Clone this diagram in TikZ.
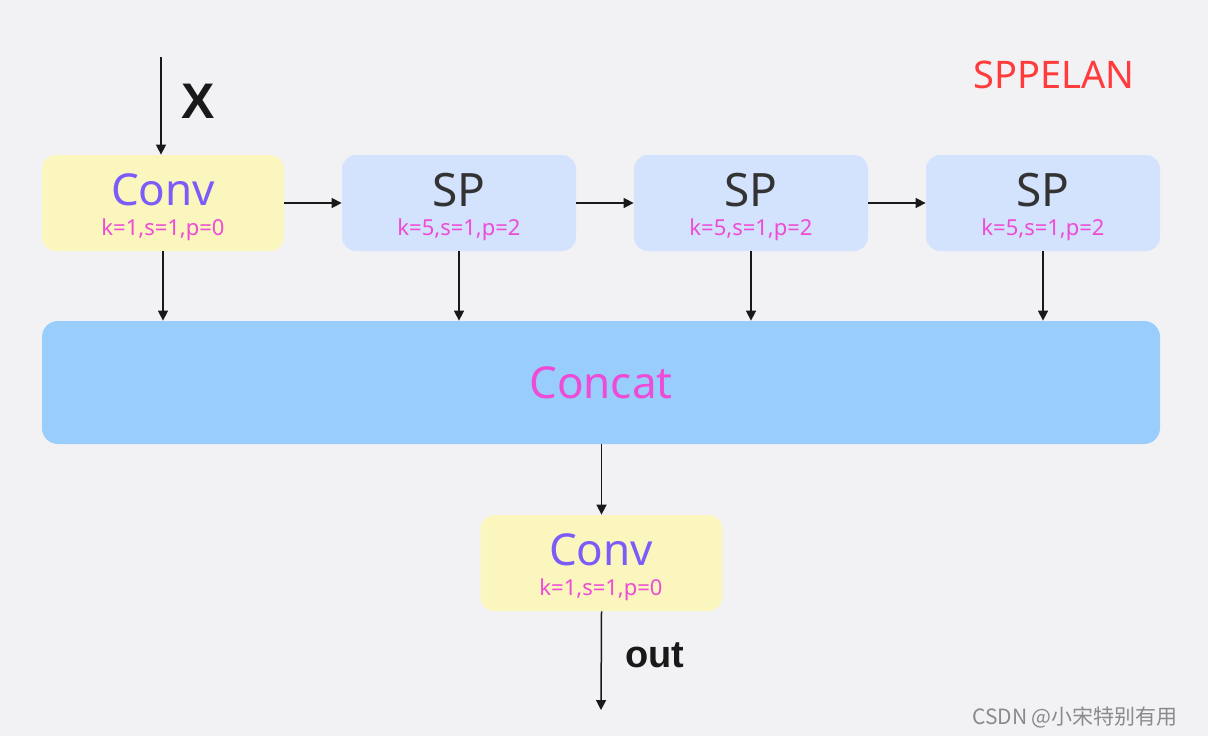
\documentclass[tikz,border=0pt]{standalone}
\usepackage{fontspec}
\setmainfont{Noto Sans}
\newfontfamily\cjkfont{Noto Sans CJK SC}
\newfontfamily\heavyfont{Liberation Sans}
\usetikzlibrary{arrows.meta}
\definecolor{bgc}{HTML}{F2F2F5}
\definecolor{convfill}{HTML}{FBF6BE}
\definecolor{spfill}{HTML}{D3E2FD}
\definecolor{catfill}{HTML}{98CDFC}
\definecolor{convtxt}{HTML}{7B5CF9}
\definecolor{paramtxt}{HTML}{EE4BD6}
\definecolor{sptxt}{HTML}{333333}
\definecolor{titletxt}{HTML}{FF3B3B}
\definecolor{marktxt}{HTML}{8A8A8A}
\tikzset{
  block/.style={draw=none, rounded corners=7pt, inner sep=0pt,
    minimum width=121pt, minimum height=48pt},
  convbox/.style={block, fill=convfill},
  spbox/.style={block, fill=spfill, minimum width=117pt},
  catbox/.style={draw=none, rounded corners=8pt, fill=catfill, inner sep=0pt,
    minimum width=559pt, minimum height=61.5pt},
  mainlbl/.style={font=\fontsize{22}{26}\selectfont, inner sep=0pt},
  paramlbl/.style={font=\fontsize{11}{13}\selectfont, text=paramtxt, inner sep=0pt},
  flow/.style={draw=black!90, line width=0.75pt, -{Triangle[length=5pt,width=5pt]}},
}
\begin{document}
\begin{tikzpicture}[x=0.5pt,y=-0.5pt]
  \useasboundingbox (0,0) rectangle (1208,736);
  \fill[bgc] (0,0) rectangle (1208,736);

  % blocks
  \node[convbox] (conv1) at (163,203) {};
  \node[spbox] (sp1) at (459,203) {};
  \node[spbox] (sp2) at (751,203) {};
  \node[spbox] (sp3) at (1043,203) {};
  \node[catbox] (cat) at (601,382.5) {};
  \node[convbox] (conv2) at (601.5,563) {};

  % block texts
  \node[mainlbl, text=convtxt] (conv1t) at (163,190) {Conv};
  \node[paramlbl] (conv1p) at (163,230) {k=1,s=1,p=0};
  \foreach \s in {sp1,sp2,sp3} {
    \node[mainlbl, text=sptxt, font=\fontsize{23}{27}\selectfont] (\s t) at ([yshift=6.5pt]\s.center) {SP};
    \node[paramlbl] (\s p) at ([yshift=-13.5pt]\s.center) {k=5,s=1,p=2};
  }
  \node[mainlbl, text=paramtxt] (catt) at (601,383) {Concat};
  \node[mainlbl, text=convtxt] (conv2t) at (601,550) {Conv};
  \node[paramlbl] (conv2p) at (601,590) {k=1,s=1,p=0};

  % free ends
  \coordinate (xin) at (161,57);
  \coordinate (yout) at (601,710);

  % connectors
  \draw[flow] (xin) -- (xin |- conv1.north);
  \draw[flow] (conv1.east) -- (sp1.west);
  \draw[flow] (sp1.east) -- (sp2.west);
  \draw[flow] (sp2.east) -- (sp3.west);
  \draw[flow] (conv1.south) -- (conv1.south |- cat.north);
  \draw[flow] (sp1.south) -- (sp1.south |- cat.north);
  \draw[flow] (sp2.south) -- (sp2.south |- cat.north);
  \draw[flow] (sp3.south) -- (sp3.south |- cat.north);
  \draw[flow] (cat.south -| conv2.north) -- (conv2.north);
  \draw[flow] (conv2.south) -- (yout);

  % labels
  \node[font=\heavyfont\bfseries\fontsize{25}{29}\selectfont, text=black!90, inner sep=0pt] (xlbl) at (198,101) {X};
  \node[font=\heavyfont\bfseries\fontsize{19}{23}\selectfont, text=black!90, inner sep=0pt] (outlbl) at (655,655) {out};
  \node[font=\fontsize{19}{23}\selectfont, text=titletxt, inner sep=0pt] (title) at (1054,75) {SPPELAN};
  \node[font=\cjkfont\fontsize{10.5}{12}\selectfont, text=marktxt, inner sep=0pt] (mark) at (1075,717) {CSDN @小宋特别有用};
\end{tikzpicture}
\end{document}
